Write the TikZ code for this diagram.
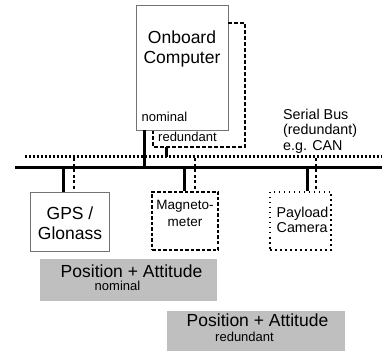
\documentclass[tikz,border=0pt]{standalone}
\usepackage{fontspec}
\setmainfont{Liberation Sans}
\begin{document}
\begin{tikzpicture}[x=1pt,y=-1pt,
  unitbox/.style={draw=#1,line width=0.9pt,inner sep=0pt,fill=white},
  bus/.style={line width=3pt},
  dotbus/.style={line width=3pt,dash pattern=on 2pt off 2pt},
  dotlink/.style={line width=2.4pt,dash pattern=on 3pt off 2.5pt},
  loop/.style={line width=1.3pt,dash pattern=on 4pt off 2pt},
  band/.style={fill=black!25,draw=none,inner sep=0pt},
  big/.style={font=\fontsize{17.5}{19.5}\selectfont,align=center,inner sep=0pt},
  mid/.style={font=\fontsize{14.3}{15.5}\selectfont,align=left,inner sep=0pt},
  small/.style={font=\fontsize{13}{14}\selectfont,inner sep=0pt},
]
\useasboundingbox (0,0) rectangle (382,352);

% bus lines
\coordinate (solidL) at (15,168);
\coordinate (solidR) at (382,168);
\coordinate (dotL) at (25,157);
\coordinate (dotR) at (382,157);
\draw[dotbus] (dotL) -- (dotR);
\draw[bus] (solidL) -- (solidR);

% onboard computer
\node[unitbox=black!55,minimum width=92pt,minimum height=125pt] (obc) at (182,67.5) {};
\node[big] (obctxt) at (182,49) {Onboard\\Computer};
\node[small,anchor=west] (nomlbl) at (141.5,117) {nominal};

% nominal link
\coordinate (nomtop) at (144,130);
\coordinate (nombot) at (144,168);
\draw[bus] (nomtop) -- (nombot);

% redundant loop
\coordinate (r1) at (228,23);
\coordinate (r2) at (245,23);
\coordinate (r3) at (245,147);
\coordinate (r4) at (153,147);
\coordinate (r5) at (153,131.5);
\draw[loop] (r1) -- (r2) -- (r3) -- (r4) -- (r5);
\coordinate (stubtop) at (166,147);
\coordinate (stubbot) at (166,157);
\draw[line width=3pt] (stubtop) -- (stubbot);
\node[small,anchor=west] (redlbl) at (158,137) {redundant};

% bus label
\node[mid,anchor=north west] (buslbl) at (283,108.5) {Serial Bus\\(redundant)\\e.g. CAN};

% GPS
\node[unitbox=black!55,minimum width=79pt,minimum height=59pt] (gps) at (69.5,221.5) {};
\node[big] (gpstxt) at (70,223) {GPS /\\Glonass};
\draw[bus] (63,168) -- (gps.north -| 63,0);
\draw[dotlink] (74,158.5) -- (74,190);

% magnetometer
\node[draw,line width=1.1pt,dash pattern=on 3.5pt off 2pt,fill=white,inner sep=0pt,minimum width=66pt,minimum height=58pt] (mag) at (185,221) {};
\node[font=\fontsize{13.5}{16.5}\selectfont,align=center,inner sep=0pt] (magtxt) at (185,213.5) {Magneto-\\meter};
\draw[bus] (184,168) -- (mag.north -| 184,0);
\draw[dotlink] (195,158.5) -- (195,190);

% payload camera
\node[draw,line width=1.1pt,dash pattern=on 1.5pt off 3.5pt,fill=white,inner sep=0pt,minimum width=61pt,minimum height=58pt] (cam) at (300.5,221) {};
\node[mid,anchor=west] (camtxt) at (276.5,220) {Payload\\Camera};
\draw[bus] (307,168) -- (cam.north -| 307,0);
\draw[dotlink] (316,158.5) -- (316,190);

% position + attitude outputs
\node[band,minimum width=177pt,minimum height=42pt] (pan) at (128.5,280) {};
\node[big] (pantxt) at (131.5,271) {Position + Attitude};
\node[small] (pannom) at (117.5,285.5) {nominal};

\node[band,minimum width=178pt,minimum height=40pt] (par) at (256,331) {};
\node[big] (partxt) at (257.5,320) {Position + Attitude};
\node[small] (parred) at (244.5,336.5) {redundant};
\end{tikzpicture}
\end{document}
